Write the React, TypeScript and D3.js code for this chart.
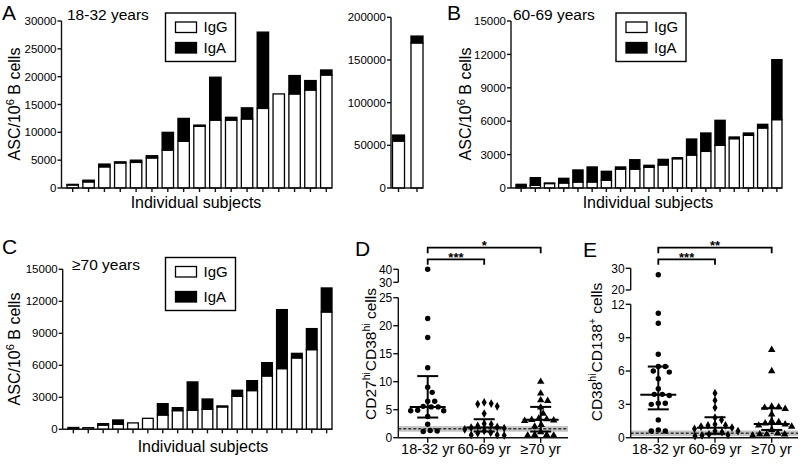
import React from "react";
import * as d3 from "d3";

const FONT = "'Liberation Sans', Arial, Helvetica, sans-serif";

// ---------- Panel A: 18-32 years (ASC / 10^6 B cells) ----------
const iggA = [550, 1100, 3800, 4500, 4600, 5400, 6800, 8400, 11100, 12200, 12200, 12400, 14300, 16900, 16900, 17600, 20300];
const igaA = [100, 300, 500, 200, 400, 400, 3200, 4100, 200, 7700, 500, 2000, 13700, 0, 3300, 1700, 900];
// inset (two high responders)
const iggA2 = [55000, 170000];
const igaA2 = [7000, 8000];

// ---------- Panel B: 60-69 years ----------
const iggB = [60, 240, 400, 450, 540, 540, 690, 1700, 1700, 1860, 2070, 2630, 2960, 3290, 3830, 4430, 4730, 5390, 6140];
const igaB = [270, 690, 50, 420, 1080, 1350, 810, 190, 840, 180, 500, 90, 1440, 1650, 2250, 150, 210, 330, 5390];

// ---------- Panel C: >=70 years ----------
const iggC = [100, 150, 400, 470, 600, 1030, 1340, 1750, 1780, 1875, 2100, 3090, 3630, 5000, 5690, 6690, 7470, 11000];
const igaC = [70, 0, 130, 405, 0, 0, 1060, 280, 2660, 965, 90, 570, 930, 1250, 5530, 430, 1970, 2250];

// ---------- Panel D: CD27hi CD38hi cells ----------
const groups = ["18-32 yr", "60-69 yr", "\u226570 yr"];
const d1 = [40, 21.3, 17.9, 12.5, 9.0, 8.1, 6.5, 6.5, 5.6, 5.5, 5.5, 4.9, 4.8, 4.8, 3.8, 2.4, 1.3, 1.1, 1.2];
const d2 = [6.3, 6.1, 6.0, 5.6, 4.3, 2.5, 2.4, 2.1, 1.9, 1.8, 1.7, 1.5, 1.2, 0.9, 0.8, 0.5, 0.5, 0.4];
const d3v = [10.0, 7.9, 6.7, 6.6, 5.4, 4.3, 3.4, 3.3, 3.2, 3.1, 3.0, 2.3, 2.0, 1.0, 0.5, 0.5, 0.4, 0.4];
const dMedian = [5.5, 1.8, 3.2];
const dQ1 = [3.6, 1.1, 1.1];
const dQ3 = [11.0, 3.3, 5.5];
const dBand = [1.07, 1.6, 2.07];

// ---------- Panel E: CD38hi CD138+ cells ----------
const e1 = [27, 11.2, 10.3, 7.5, 6.4, 6.4, 6.0, 5.9, 5.3, 4.4, 3.9, 3.9, 3.8, 3.1, 3.1, 3.0, 1.6, 0.7, 0.6, 0.6];
const e2 = [4.0, 3.35, 2.7, 1.8, 1.6, 1.2, 1.1, 1.1, 1.0, 0.9, 0.8, 0.6, 0.6, 0.5, 0.3, 0.25, 0.2, 0.15];
const e3 = [7.9, 6.0, 2.8, 2.75, 2.7, 2.6, 2.1, 1.5, 1.4, 1.3, 1.2, 1.1, 1.0, 0.7, 0.4, 0.3, 0.3, 0.3, 0.2];
const eMedian = [3.87, 0.9, 1.23];
const eQ1 = [2.55, 0.35, 0.7];
const eQ3 = [6.4, 1.84, 2.65];
const eBand = [0.15, 0.4, 0.65];

const AX = { stroke: "#111", strokeWidth: 1.4 };

function StackedBars(props: {
  igg: number[]; iga: number[]; axisX: number; axisEnd: number; barStart: number;
  yBottom: number; yTop: number; yMax: number; tickStep: number; pad?: number;
}) {
  const { igg, iga, axisX, axisEnd, barStart, yBottom, yTop, yMax, tickStep } = props;
  const y = d3.scaleLinear().domain([0, yMax]).range([yBottom, yTop]);
  const ids = igg.map((_, i) => i);
  const x = d3.scaleBand<number>().domain(ids).range([barStart, axisEnd]).paddingInner(props.pad ?? 0.28).paddingOuter(0);
  const bw = x.bandwidth();
  const ticks = d3.range(0, yMax + 1, tickStep);
  return (
    <g>
      {ids.map((i) => (
        <g key={i}>
          <rect x={x(i)} y={y(igg[i])} width={bw} height={y(0) - y(igg[i])} fill="#fff" stroke="#000" strokeWidth={1.3} />
          {iga[i] > 0 && (
            <rect x={x(i)} y={y(igg[i] + iga[i])} width={bw} height={y(igg[i]) - y(igg[i] + iga[i])} fill="#000" stroke="#000" strokeWidth={1.3} />
          )}
          <line x1={(x(i) as number) + bw / 2} x2={(x(i) as number) + bw / 2} y1={yBottom} y2={yBottom + 4} {...AX} />
        </g>
      ))}
      <line x1={axisX} x2={axisX} y1={yTop} y2={yBottom} {...AX} />
      <line x1={axisX} x2={axisEnd} y1={yBottom} y2={yBottom} {...AX} />
      {ticks.map((t) => (
        <g key={t}>
          <line x1={axisX - 4} x2={axisX} y1={y(t)} y2={y(t)} {...AX} />
          <text x={axisX - 5} y={y(t)} dy="0.36em" textAnchor="end" fontSize={11.5}>{t}</text>
        </g>
      ))}
    </g>
  );
}

function Legend({ x, y, h }: { x: number; y: number; h: number }) {
  return (
    <g>
      <rect x={x} y={y} width={70} height={h} fill="#fff" stroke="#000" strokeWidth={1.4} />
      <rect x={x + 10} y={y + 9} width={21} height={10.5} fill="#fff" stroke="#000" strokeWidth={1.3} />
      <rect x={x + 10} y={y + h - 19} width={21} height={10.5} fill="#000" stroke="#000" strokeWidth={1.3} />
      <text x={x + 38} y={y + 19} fontSize={15}>IgG</text>
      <text x={x + 38} y={y + h - 8.5} fontSize={15}>IgA</text>
    </g>
  );
}

function swarm(vals: number[], yf: (v: number) => number, d: number): number[] {
  const placed: { x: number; y: number }[] = [];
  return vals.map((v) => {
    const py = yf(v);
    let off = 0;
    for (let k = 0; k < 400; k++) {
      const cand = (k % 2 === 1 ? 1 : -1) * Math.ceil(k / 2) * 0.5;
      if (placed.every((p) => Math.hypot(p.x - cand, p.y - py) >= d)) { off = cand; break; }
    }
    placed.push({ x: off, y: py });
    return off;
  });
}

type Marker = "circle" | "diamond" | "triangle";
const markerPath: Record<Marker, string> = {
  circle: d3.symbol(d3.symbolCircle, 23)() as string,
  diamond: d3.symbol(d3.symbolDiamond, 22)() as string,
  triangle: d3.symbol(d3.symbolTriangle, 24)() as string,
};

function ScatterPanel(props: {
  data: number[][]; med: number[]; q1: number[]; q3: number[]; band: number[];
  yf: (v: number) => number; axisX: number; axisEnd: number; x0: number; step: number;
  yBottom: number; lowTop: number; upTop: number; upBottom: number;
  lowTicks: number[]; upTicks: number[]; brackets: { from: number; to: number; y: number; label: string }[];
}) {
  const { data, med, q1, q3, band, yf, axisX, axisEnd, x0, step, yBottom, lowTop, upTop, upBottom } = props;
  const cx = (i: number) => x0 + i * step;
  const markers: Marker[] = ["circle", "diamond", "triangle"];
  return (
    <g>
      <rect x={axisX} y={yf(band[2])} width={axisEnd - axisX} height={yf(band[0]) - yf(band[2])} fill="#c4c4c4" />
      <line x1={axisX} x2={axisEnd} y1={yf(band[1])} y2={yf(band[1])} stroke="#333" strokeWidth={1.4} strokeDasharray="3,2" />
      {data.map((vals, gi) => {
        const offs = swarm(vals, yf, 6.6);
        return vals.map((v, j) => (
          <path key={gi + "-" + j} d={markerPath[markers[gi]]} transform={`translate(${cx(gi) + offs[j]},${yf(v)})`} fill="#000" />
        ));
      })}
      {med.map((m, gi) => (
        <g key={"s" + gi} stroke="#000" strokeWidth={2}>
          <line x1={cx(gi) - 18} x2={cx(gi) + 18} y1={yf(m)} y2={yf(m)} />
          <line x1={cx(gi) - 10.5} x2={cx(gi) + 10.5} y1={yf(q1[gi])} y2={yf(q1[gi])} />
          <line x1={cx(gi) - 10.5} x2={cx(gi) + 10.5} y1={yf(q3[gi])} y2={yf(q3[gi])} />
          <line x1={cx(gi)} x2={cx(gi)} y1={yf(q1[gi])} y2={yf(q3[gi])} />
        </g>
      ))}
      <line x1={axisX} x2={axisX} y1={lowTop} y2={yBottom} {...AX} />
      <line x1={axisX} x2={axisX} y1={upTop} y2={upBottom} {...AX} />
      <line x1={axisX} x2={axisEnd} y1={yBottom} y2={yBottom} {...AX} />
      {[...props.lowTicks, ...props.upTicks].map((t) => (
        <g key={"t" + t}>
          <line x1={axisX - 5} x2={axisX} y1={yf(t)} y2={yf(t)} {...AX} />
          <text x={axisX - 6} y={yf(t)} dy="0.36em" textAnchor="end" fontSize={12}>{t}</text>
        </g>
      ))}
      {groups.map((g, gi) => (
        <g key={g}>
          <line x1={cx(gi)} x2={cx(gi)} y1={yBottom} y2={yBottom + 5} {...AX} />
          <text x={cx(gi)} y={yBottom + 16} textAnchor="middle" fontSize={14.5}>{g}</text>
        </g>
      ))}
      {props.brackets.map((b, k) => (
        <g key={"b" + k}>
          <path d={`M${cx(b.from)},${b.y + 5.5}V${b.y}H${cx(b.to)}V${b.y + 5.5}`} fill="none" stroke="#000" strokeWidth={1.8} />
          <text x={(cx(b.from) + cx(b.to)) / 2} y={b.y + 2.5} textAnchor="middle" fontSize={13} fontWeight="bold">{b.label}</text>
        </g>
      ))}
    </g>
  );
}

export default function App() {
  // Panel D y mapping with axis break
  const dLow = d3.scaleLinear().domain([0, 25]).range([437.7, 297.7]);
  const dUp = d3.scaleLinear().domain([30, 40]).range([282.3, 269.3]);
  const yD = (v: number) => (v <= 25 ? dLow(v) : dUp(v));
  const eLow = d3.scaleLinear().domain([0, 12]).range([437.7, 304.3]);
  const eUp = d3.scaleLinear().domain([20, 30]).range([290, 268.3]);
  const yE = (v: number) => (v <= 12 ? eLow(v) : eUp(v));

  return (
    <svg width={800} height={465} style={{ position: "absolute", left: 0, top: 0, background: "#fff" }} fontFamily={FONT}>
      <rect width={800} height={465} fill="#fff" />
      {/* Panel letters */}
      <text x={2} y={20} fontSize={21}>A</text>
      <text x={447} y={20} fontSize={21}>B</text>
      <text x={2} y={254} fontSize={21}>C</text>
      <text x={355} y={256} fontSize={21}>D</text>
      <text x={583} y={257} fontSize={21}>E</text>

      {/* Panel A */}
      <StackedBars igg={iggA} iga={igaA} axisX={61.5} axisEnd={332} barStart={67} yBottom={188} yTop={21} yMax={30000} tickStep={5000} />
      <text x={67} y={20} fontSize={15.5}>18-32 years</text>
      <Legend x={165.5} y={13} h={48.5} />
      <text transform="translate(20,104) rotate(-90)" textAnchor="middle" fontSize={16}>
        ASC/10<tspan dy={-6} fontSize={11}>6</tspan><tspan dy={6}> B cells</tspan>
      </text>
      <text x={196} y={208} textAnchor="middle" fontSize={16}>Individual subjects</text>
      <StackedBars igg={iggA2} iga={igaA2} axisX={391} axisEnd={423} barStart={392.5} yBottom={188} yTop={17.3} yMax={200000} tickStep={50000} pad={0.35} />

      {/* Panel B */}
      <StackedBars igg={iggB} iga={igaB} axisX={511} axisEnd={782} barStart={516} yBottom={188} yTop={21} yMax={15000} tickStep={3000} />
      <text x={513} y={20} fontSize={15.5}>60-69 years</text>
      <Legend x={616} y={13} h={48.5} />
      <text transform="translate(471,104) rotate(-90)" textAnchor="middle" fontSize={16}>
        ASC/10<tspan dy={-6} fontSize={11}>6</tspan><tspan dy={6}> B cells</tspan>
      </text>
      <text x={648} y={208} textAnchor="middle" fontSize={16}>Individual subjects</text>

      {/* Panel C */}
      <StackedBars igg={iggC} iga={igaC} axisX={62.7} axisEnd={332} barStart={68} yBottom={429.3} yTop={269.3} yMax={15000} tickStep={3000} />
      <text x={72} y={270} fontSize={15.5}>{"\u226570 years"}</text>
      <Legend x={165.5} y={257.5} h={53} />
      <text transform="translate(20,349) rotate(-90)" textAnchor="middle" fontSize={16}>
        ASC/10<tspan dy={-6} fontSize={11}>6</tspan><tspan dy={6}> B cells</tspan>
      </text>
      <text x={203} y={452} textAnchor="middle" fontSize={16}>Individual subjects</text>

      {/* Panel D */}
      <ScatterPanel data={[d1, d2, d3v]} med={dMedian} q1={dQ1} q3={dQ3} band={dBand} yf={yD}
        axisX={398.3} axisEnd={568} x0={427.7} step={56.5} yBottom={437.7} lowTop={297.7} upTop={269.3} upBottom={282.3}
        lowTicks={[0, 5, 10, 15, 20, 25]} upTicks={[30, 40]}
        brackets={[{ from: 0, to: 2, y: 247.7, label: "*" }, { from: 0, to: 1, y: 259.3, label: "***" }]} />
      <text transform="translate(376,354) rotate(-90)" textAnchor="middle" fontSize={15.5}>
        CD27<tspan dy={-6} fontSize={10.5}>hi</tspan><tspan dy={6} dx={1}>CD38</tspan><tspan dy={-6} fontSize={10.5}>hi</tspan><tspan dy={6}> cells</tspan>
      </text>

      {/* Panel E */}
      <ScatterPanel data={[e1, e2, e3]} med={eMedian} q1={eQ1} q3={eQ3} band={eBand} yf={yE}
        axisX={630.7} axisEnd={798} x0={658.3} step={56.7} yBottom={437.7} lowTop={304.3} upTop={268.3} upBottom={290}
        lowTicks={[0, 3, 6, 9, 12]} upTicks={[20, 30]}
        brackets={[{ from: 0, to: 2, y: 247.7, label: "**" }, { from: 0, to: 1, y: 259.3, label: "***" }]} />
      <text transform="translate(602,352) rotate(-90)" textAnchor="middle" fontSize={15.5}>
        CD38<tspan dy={-6} fontSize={10.5}>hi</tspan><tspan dy={6} dx={1}>CD138</tspan><tspan dy={-6} fontSize={10.5}>+</tspan><tspan dy={6}> cells</tspan>
      </text>
    </svg>
  );
}
